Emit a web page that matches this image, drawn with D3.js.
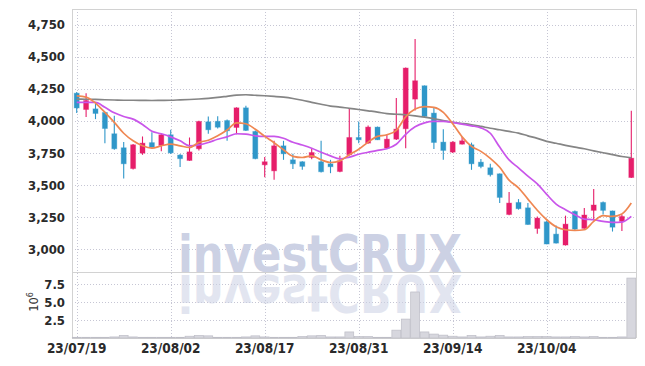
<!DOCTYPE html>
<html><head><meta charset="utf-8">
<script src="https://cdn.jsdelivr.net/npm/d3@7"></script>
<style>html,body{margin:0;padding:0;background:#fff;} svg{display:block}</style>
</head><body><svg id="c" width="645" height="366" xmlns:xlink="http://www.w3.org/1999/xlink"></svg>
<script>
const dates = ["23/07/19","23/07/20","23/07/21","23/07/24","23/07/25","23/07/26","23/07/27","23/07/28","23/07/31",
"23/08/01","23/08/02","23/08/03","23/08/04","23/08/07","23/08/08","23/08/09","23/08/10","23/08/11","23/08/14","23/08/16",
"23/08/17","23/08/18","23/08/21","23/08/22","23/08/23","23/08/24","23/08/25","23/08/28","23/08/29","23/08/30",
"23/08/31","23/09/01","23/09/04","23/09/05","23/09/06","23/09/07","23/09/08","23/09/11","23/09/12","23/09/13",
"23/09/14","23/09/15","23/09/18","23/09/19","23/09/20","23/09/21","23/09/22","23/09/25","23/09/26","23/09/27",
"23/10/04","23/10/05","23/10/06","23/10/10","23/10/11","23/10/12","23/10/13","23/10/16","23/10/17","23/10/18"];
const open  = [4215,4088,4093,4065,3899,3790,3628,3748,3830,3808,3891,3733,3691,3782,3992,3996,4002,3948,4101,3917,
3657,3610,3805,3696,3681,3714,3681,3665,3605,3735,3870,3826,3951,3787,3857,3938,4169,4273,4060,3834,
3756,3818,3813,3678,3634,3587,3270,3364,3322,3161,3213,3117,3032,3294,3162,3302,3364,3298,3216,3558];
const high  = [4225,4215,4138,4070,4039,3834,3820,3878,3910,3897,3930,3742,3870,4000,4034,4035,4010,4105,4118,3925,
3717,3844,3844,3743,3685,3787,3844,3696,3727,4099,3995,3963,3955,3896,4177,4415,4637,4275,4107,3935,
3840,3873,3830,3702,3665,3590,3445,3390,3360,3255,3222,3184,3261,3302,3320,3468,3372,3300,3268,4078];
const low   = [4060,4030,4013,3826,3775,3550,3620,3735,3790,3762,3742,3640,3688,3768,3899,3940,3845,3895,3920,3700,
3561,3540,3696,3624,3618,3700,3598,3592,3600,3730,3826,3822,3850,3783,3850,3787,4080,4030,3780,3696,
3750,3815,3618,3631,3566,3360,3265,3308,3190,3120,3038,3045,3028,3150,3158,3224,3270,3137,3142,3555];
const close = [4100,4158,4057,3940,3782,3665,3813,3826,3795,3891,3750,3705,3758,3995,3930,3950,3922,4101,3925,3705,
3681,3805,3743,3665,3645,3753,3603,3642,3688,3870,3852,3951,3852,3857,3935,4411,4312,4034,3831,3769,
3834,3844,3665,3644,3580,3403,3359,3315,3192,3242,3040,3047,3195,3156,3266,3344,3302,3171,3255,3709];
const ma5  = [4194,4185,4138,4066,3988,3903,3844,3805,3787,3805,3818,3805,3792,3832,3848,3883,3928,3984,3977,3934,
3879,3829,3774,3723,3714,3727,3696,3675,3688,3735,3778,3834,3879,3891,3926,4031,4091,4111,4105,4066,
3977,3875,3801,3762,3708,3638,3538,3478,3390,3303,3229,3174,3151,3146,3151,3216,3261,3255,3274,3359];
const ma10 = [4143,4143,4143,4105,4062,4033,4013,3971,3918,3899,3875,3844,3805,3813,3831,3856,3875,3899,3896,3883,
3878,3878,3864,3833,3811,3786,3755,3727,3704,3717,3739,3755,3770,3782,3817,3895,3953,3984,3995,3995,
3987,3974,3961,3945,3903,3795,3695,3634,3569,3509,3427,3351,3307,3268,3234,3229,3216,3208,3211,3255];
const ma60 = [4169,4168,4167,4164,4162,4160,4160,4159,4158,4159,4160,4163,4166,4170,4175,4182,4191,4200,4203,4199,
4195,4190,4184,4174,4160,4144,4129,4115,4107,4097,4088,4078,4068,4056,4051,4047,4039,4029,4016,4002,
3988,3979,3969,3956,3942,3930,3917,3904,3883,3863,3840,3825,3809,3795,3782,3766,3751,3737,3722,3712];
const volume = [0.1,0.1,0.1,0.1,0.15,0.35,0.15,0.1,0.1,0.1,0.1,0.1,0.25,0.35,0.3,0.1,0.1,0.1,0.15,0.3,
0.15,0.1,0.1,0.1,0.2,0.3,0.35,0.15,0.15,0.85,0.2,0.2,0.1,0.1,1.1,2.65,6.45,0.85,0.55,0.4,
0.25,0.15,0.35,0.15,0.25,0.35,0.15,0.15,0.2,0.2,0.2,0.15,0.15,0.2,0.15,0.2,0.1,0.1,0.15,8.4];
const priceTicks = [3000,3250,3500,3750,4000,4250,4500,4750];
const volTicks = [2.5,5.0,7.5];
const xTickLabels = ["23/07/19","23/08/02","23/08/17","23/08/31","23/09/14","23/10/04"];

const L=72, R=636, T=9, PB=272, VB=338;
const svg = d3.select("#c");
const xb = d3.scaleBand().domain(dates).range([L,R]).paddingInner(0.36).paddingOuter(0.18);
const xv = d3.scaleBand().domain(dates).range([L,R]).paddingInner(0.06).paddingOuter(0.03);
const cx = d => xb(d) + xb.bandwidth()/2;
const y = d3.scaleLinear().domain([2822,4871]).range([PB,T]);
const yv = d3.scaleLinear().domain([0,9.25]).range([VB,PB]);

const gridColor = "#c6c6d4";
const g = svg.append("g");
g.selectAll(".hg").data(priceTicks).join("line").attr("x1",L).attr("x2",R)
 .attr("y1",d=>Math.round(y(d))+0.5).attr("y2",d=>Math.round(y(d))+0.5)
 .attr("stroke",gridColor).attr("stroke-dasharray","1,2");
g.selectAll(".hv").data(volTicks).join("line").attr("x1",L).attr("x2",R)
 .attr("y1",d=>Math.round(yv(d))+0.5).attr("y2",d=>Math.round(yv(d))+0.5)
 .attr("stroke",gridColor).attr("stroke-dasharray","1,2");
g.selectAll(".vg").data(xTickLabels).join("line")
 .attr("x1",d=>Math.round(cx(d))+0.5).attr("x2",d=>Math.round(cx(d))+0.5)
 .attr("y1",T).attr("y2",VB).attr("stroke",gridColor).attr("stroke-dasharray","1,2");

// watermark + reflection (reflection reuses the same text via <use>)
const defs = svg.append("defs");
defs.append("clipPath").attr("id","volclip").append("rect").attr("x",L).attr("y",PB+1).attr("width",R-L).attr("height",VB-PB-1);
svg.append("text").attr("id","wm").attr("x",320).attr("y",271.5).attr("text-anchor","middle")
 .attr("font-family","DejaVu Sans, sans-serif").attr("font-weight","bold")
 .attr("font-size",52).attr("textLength",284).attr("lengthAdjust","spacingAndGlyphs")
 .attr("fill","#ccd1e4").text("investCRUX");
svg.append("g").attr("clip-path","url(#volclip)")
 .append("use").attr("href","#wm").attr("xlink:href","#wm")
 .attr("transform","translate(0,546) scale(1,-1)").attr("opacity",0.55);

// borders
const bc = "#d2d2d2";
[[L,T,R,T],[R,T,R,VB],[L,T,L,VB],[L,PB,R,PB],[L,VB,R,VB]].forEach(a=>{
  const vx = a[0]===a[2]?0.5:0, hy = a[1]===a[3]?0.5:0;
  svg.append("line").attr("x1",a[0]+vx).attr("y1",a[1]+hy).attr("x2",a[2]+vx).attr("y2",a[3]+hy).attr("stroke",bc);
});

// volume bars
svg.append("g").selectAll("rect").data(dates).join("rect")
 .attr("x",d=>xv(d)).attr("width",xv.bandwidth())
 .attr("y",(d,i)=>yv(volume[i])).attr("height",(d,i)=>VB-yv(volume[i]))
 .attr("fill","#d7d7de").attr("stroke","#bdbdc6").attr("stroke-width",0.7);

// candles
const up = "#e61e6a", dn = "#2f97c9";
const cg = svg.append("g");
dates.forEach((d,i)=>{
  const col = close[i] >= open[i] ? up : dn;
  cg.append("line").attr("x1",cx(d)).attr("x2",cx(d)).attr("y1",y(high[i])).attr("y2",y(low[i]))
    .attr("stroke",col).attr("stroke-width",1.1);
  const top = y(Math.max(open[i],close[i])), bot = y(Math.min(open[i],close[i]));
  cg.append("rect").attr("x",xb(d)+0.5).attr("width",xb.bandwidth()-1)
    .attr("y",top).attr("height",Math.max(1,bot-top))
    .attr("fill",col).attr("stroke",col).attr("stroke-opacity",0.35).attr("stroke-width",1);
});

// moving averages
const line = arr => d3.line().x((d,i)=>cx(dates[i])).y(d=>y(d)).curve(d3.curveMonotoneX)(arr);
svg.append("path").attr("d",line(ma60)).attr("fill","none").attr("stroke","#858585").attr("stroke-width",1.7);
svg.append("path").attr("d",line(ma10)).attr("fill","none").attr("stroke","#c955ea").attr("stroke-width",1.7);
svg.append("path").attr("d",line(ma5)).attr("fill","none").attr("stroke","#ef8752").attr("stroke-width",1.7);

// axes
const fontF = "DejaVu Sans Condensed, sans-serif";
const ya = svg.append("g").attr("transform",`translate(${L},0)`)
 .call(d3.axisLeft(y).tickValues(priceTicks).tickFormat(d3.format(",")).tickSize(0).tickPadding(7));
const yva = svg.append("g").attr("transform",`translate(${L},0)`)
 .call(d3.axisLeft(yv).tickValues(volTicks).tickFormat(d3.format(".1f")).tickSize(0).tickPadding(7));
const xa = svg.append("g").attr("transform",`translate(0,${VB})`)
 .call(d3.axisBottom(xb).tickValues(xTickLabels).tickSize(0).tickPadding(5));
[ya,yva,xa].forEach(a=>{
  a.select(".domain").remove();
  a.selectAll("text").attr("font-family",fontF).attr("font-weight","bold").attr("fill","#2a2a2a");
});
ya.selectAll("text").attr("font-size",13);
yva.selectAll("text").attr("font-size",13);
xa.selectAll("text").attr("font-size",13.5);

const ul = svg.append("text").attr("transform","translate(38,302) rotate(-90)")
 .attr("text-anchor","middle").attr("font-family","DejaVu Sans, sans-serif").attr("font-size",11.5).attr("fill","#333");
ul.append("tspan").text("10");
ul.append("tspan").attr("dy",-5).attr("font-size",8).text("6");
</script></body></html>
